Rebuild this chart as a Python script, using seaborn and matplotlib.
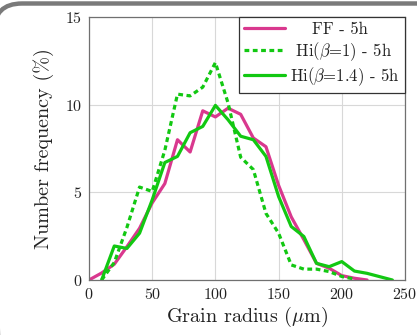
import matplotlib
matplotlib.use("Agg")
import matplotlib.pyplot as plt
import seaborn as sns
import pandas as pd
from matplotlib.patches import FancyBboxPatch

# ---- data ----
ff_x = [0, 10, 20, 30, 40, 50, 60, 70, 80, 90, 100, 110, 120, 130, 140, 150, 160, 170, 180, 190, 200, 210, 220]
ff_y = [0, 0.4, 0.9, 1.9, 2.95, 4.4, 5.5, 8.0, 7.3, 9.65, 9.3, 9.8, 9.45, 8.1, 7.6, 5.4, 3.6, 2.3, 0.95, 0.67, 0.25, 0.1, 0.0]

hi1_x = [10, 20, 30, 40, 50, 60, 70, 80, 90, 100, 110, 120, 130, 140, 150, 160, 170, 180, 190, 200, 210]
hi1_y = [0, 1.0, 3.0, 5.3, 5.05, 7.4, 10.6, 10.5, 11.0, 12.4, 10.1, 7.0, 6.3, 3.8, 2.67, 0.86, 0.62, 0.62, 0.48, 0.2, 0.05]

hi14_x = [10, 20, 30, 40, 50, 60, 70, 80, 90, 100, 110, 120, 130, 140, 150, 160, 170, 180, 190, 200, 210, 220, 230, 240]
hi14_y = [0, 1.94, 1.8, 2.67, 4.57, 6.7, 7.05, 8.4, 8.76, 9.96, 9.14, 8.2, 8.0, 7.05, 4.76, 3.05, 2.48, 0.95, 0.76, 1.05, 0.51, 0.38, 0.19, 0.0]

labels = ["    FF - 5h", r" Hi($\beta$=1) - 5h", r"Hi($\beta$=1.4) - 5h"]
x_ticks = [0, 50, 100, 150, 200, 250]
y_ticks = [0, 5, 10, 15]

sns.set_theme(style="white")
plt.rcParams["font.family"] = ["cmr10", "DejaVu Serif"]
plt.rcParams["mathtext.fontset"] = "cm"
plt.rcParams["axes.formatter.use_mathtext"] = True
plt.rcParams["axes.unicode_minus"] = False

pink = "#d9388e"
green = "#12c812"
dots = (0, (1.5, 1.1))

fig = plt.figure(figsize=(4.17, 3.35), dpi=100)
ax = fig.add_axes([89 / 417, 1 - 280 / 335, (405 - 89) / 417, (280 - 17) / 335])

df_ff = pd.DataFrame({"x": ff_x, "y": ff_y})
df_h1 = pd.DataFrame({"x": hi1_x, "y": hi1_y})
df_h14 = pd.DataFrame({"x": hi14_x, "y": hi14_y})

sns.lineplot(data=df_ff, x="x", y="y", ax=ax, color=pink, lw=2.3, label=labels[0])
sns.lineplot(data=df_h1, x="x", y="y", ax=ax, color=green, lw=2.3, label=labels[1])
sns.lineplot(data=df_h14, x="x", y="y", ax=ax, color=green, lw=2.3, label=labels[2])
ax.lines[1].set_linestyle(dots)

ax.set_xlim(0, 250)
ax.set_ylim(0, 15)
ax.set_xticks(x_ticks)
ax.set_yticks(y_ticks)
ax.grid(True, color="#d8d8d8", lw=0.8)
ax.set_axisbelow(True)
for s in ax.spines.values():
    s.set_color("#707070")
    s.set_linewidth(0.9)
ax.tick_params(axis="both", labelsize=11.5, length=3, width=0.8, color="#707070",
               direction="out", pad=2, labelcolor="#222222")
ax.set_xlabel(r"Grain radius ($\mu$m)", fontsize=14.5, labelpad=2, color="#222222")
ax.set_ylabel("Number frequency (%)", fontsize=14.5, labelpad=8, color="#222222")

leg = ax.legend(loc="upper right", borderaxespad=0, fancybox=False, framealpha=1,
                edgecolor="#333333", fontsize=12, handlelength=2.5, handletextpad=0.3,
                labelspacing=0.15, borderpad=0.3)
leg.get_frame().set_linewidth(0.9)
for t in leg.get_texts():
    t.set_color("#222222")
leg.get_lines()[1].set_linestyle(dots)

# decorative rounded gray frame at top-left
frame = FancyBboxPatch((-6, -200), 600, 335 - 3.5 + 200,
                       boxstyle="round,pad=0,rounding_size=28",
                       transform=None, fill=False, edgecolor="#7a7a7a", lw=3.2,
                       clip_on=False)
fig.add_artist(frame)

fig.savefig("out.png", dpi=100)
